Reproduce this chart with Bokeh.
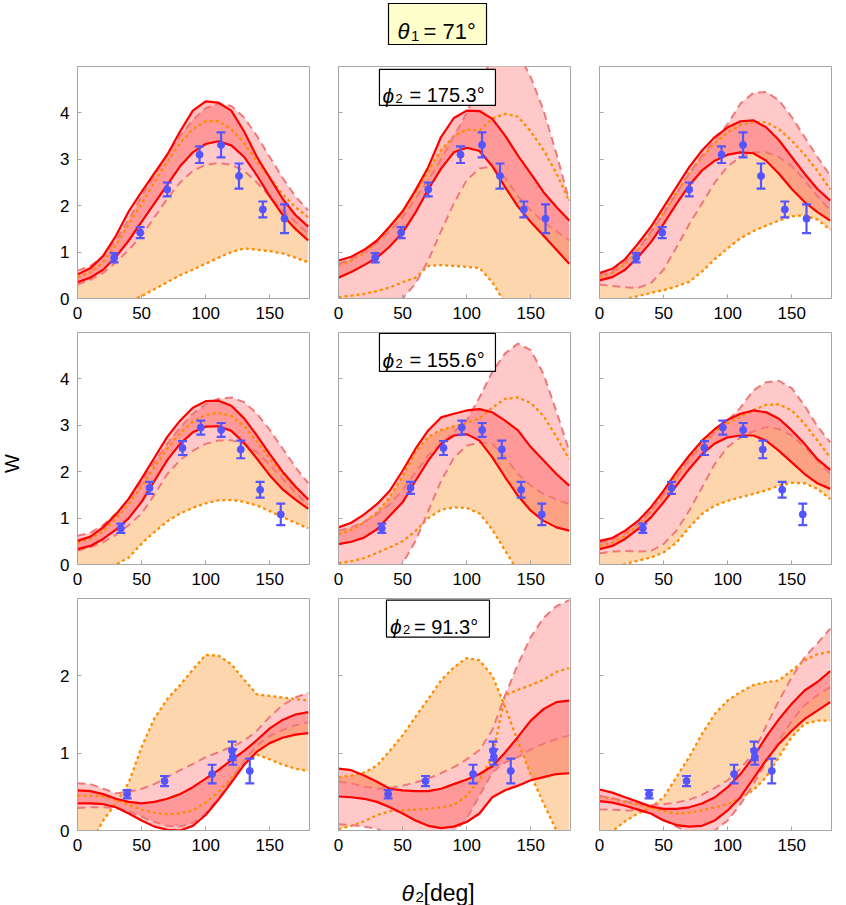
import math
from bokeh.plotting import figure
from bokeh.layouts import row, column
from bokeh.models import Range1d, FixedTicker, Whisker, TeeHead, ColumnDataSource, CustomJSTickFormatter
from bokeh.embed import file_html
from bokeh.resources import INLINE
from bokeh.core.properties import value

# ---------------- data ----------------
theta2 = [0, 10, 20, 30, 40, 50, 60, 70, 80, 90, 100, 110, 120, 130, 140, 150, 160, 170, 180]

# row 1 (phi2 = 175.3)
p11_red_hi = [0.52, 0.65, 0.92, 1.35, 1.88, 2.3, 2.7, 3.1, 3.6, 4.05, 4.25, 4.22, 4.05, 3.6, 3.05, 2.6, 2.15, 1.8, 1.55]
p11_red_lo = [0.35, 0.45, 0.62, 0.9, 1.25, 1.65, 2.05, 2.45, 2.85, 3.15, 3.33, 3.39, 3.3, 3.05, 2.65, 2.2, 1.8, 1.5, 1.25]
p11_pk_hi = [0.6, 0.7, 0.9, 1.25, 1.7, 2.2, 2.65, 3.1, 3.5, 3.85, 4.1, 4.2, 4.15, 3.9, 3.5, 3.05, 2.6, 2.2, 1.9]
p11_pk_lo = [0.3, 0.4, 0.55, 0.78, 1.05, 1.35, 1.75, 2.15, 2.5, 2.75, 2.88, 2.92, 2.88, 2.75, 2.5, 2.2, 1.9, 1.65, 1.4]
p11_or_a = [0.46, 0.56, 0.78, 1.15, 1.6, 2.05, 2.5, 2.95, 3.35, 3.65, 3.82, 3.82, 3.65, 3.35, 2.95, 2.6, 2.25, 1.97, 1.75]
p11_or_b = [-0.6, -0.45, -0.3, -0.18, -0.06, 0.05, 0.2, 0.35, 0.5, 0.62, 0.75, 0.88, 1.0, 1.08, 1.05, 1.02, 0.97, 0.88, 0.78]

p12_red_hi = [0.82, 0.9, 1.05, 1.25, 1.55, 1.88, 2.33, 2.83, 3.48, 3.89, 4.05, 4.04, 3.87, 3.51, 3.08, 2.69, 2.29, 1.97, 1.68]
p12_red_lo = [0.45, 0.57, 0.72, 0.88, 1.12, 1.42, 1.85, 2.35, 2.8, 3.15, 3.25, 3.18, 2.85, 2.4, 1.98, 1.65, 1.35, 1.05, 0.75]
p12_pk_hi = [0.75, 0.85, 1.0, 1.2, 1.45, 1.75, 2.15, 2.55, 3.0, 3.5, 4.0, 4.6, 5.2, 5.5, 5.3, 4.77, 4.05, 3.12, 2.11]
p12_pk_lo = [-1.5, -1.2, -0.9, -0.6, -0.3, 0.0, 0.32, 0.82, 1.45, 2.05, 2.55, 2.8, 2.85, 2.6, 2.2, 1.9, 1.65, 1.45, 1.25]
p12_or_a = [0.71, 0.82, 0.98, 1.22, 1.55, 1.85, 2.3, 2.75, 3.2, 3.5, 3.64, 3.62, 3.88, 3.98, 3.92, 3.6, 3.2, 2.7, 2.1]
p12_or_b = [0.03, 0.06, 0.1, 0.16, 0.24, 0.35, 0.45, 0.7, 0.72, 0.7, 0.68, 0.66, 0.35, -0.1, -0.5, -0.9, -1.2, -1.5, -1.8]

p13_red_hi = [0.55, 0.64, 0.85, 1.18, 1.54, 1.97, 2.4, 2.83, 3.19, 3.48, 3.69, 3.82, 3.84, 3.69, 3.41, 3.05, 2.69, 2.36, 2.11]
p13_red_lo = [0.39, 0.46, 0.62, 0.89, 1.21, 1.61, 2.04, 2.44, 2.76, 2.97, 3.1, 3.15, 3.13, 2.97, 2.69, 2.36, 2.08, 1.86, 1.68]
p13_pk_hi = [0.5, 0.59, 0.78, 1.07, 1.43, 1.82, 2.26, 2.69, 3.08, 3.41, 3.76, 4.2, 4.43, 4.45, 4.27, 3.91, 3.48, 3.05, 2.65]
p13_pk_lo = [0.3, 0.27, 0.24, 0.23, 0.33, 0.62, 1.1, 1.6, 2.05, 2.5, 2.85, 3.05, 3.15, 3.15, 3.05, 2.85, 2.55, 2.2, 1.9]
p13_or_a = [0.46, 0.55, 0.74, 1.05, 1.42, 1.85, 2.28, 2.7, 3.05, 3.35, 3.58, 3.74, 3.8, 3.8, 3.65, 3.4, 3.1, 2.75, 2.35]
p13_or_b = [-0.12, -0.06, -0.01, 0.05, 0.12, 0.18, 0.26, 0.36, 0.58, 0.85, 1.08, 1.3, 1.45, 1.57, 1.68, 1.77, 1.79, 1.7, 1.48]

# row 2 (phi2 = 155.6)
p21_red_hi = [0.51, 0.6, 0.8, 1.08, 1.42, 1.85, 2.3, 2.75, 3.1, 3.38, 3.52, 3.53, 3.42, 3.15, 2.78, 2.38, 2.0, 1.68, 1.4]
p21_red_lo = [0.33, 0.4, 0.55, 0.75, 1.0, 1.35, 1.8, 2.25, 2.6, 2.85, 2.97, 2.98, 2.88, 2.62, 2.28, 1.92, 1.62, 1.4, 1.2]
p21_pk_hi = [0.62, 0.68, 0.85, 1.1, 1.4, 1.78, 2.2, 2.6, 2.95, 3.25, 3.45, 3.57, 3.6, 3.5, 3.25, 2.9, 2.5, 2.1, 1.75]
p21_pk_lo = [0.3, 0.37, 0.48, 0.64, 0.85, 1.1, 1.5, 1.95, 2.25, 2.45, 2.6, 2.67, 2.68, 2.6, 2.42, 2.15, 1.85, 1.55, 1.28]
p21_or_a = [0.47, 0.55, 0.72, 0.98, 1.3, 1.68, 2.1, 2.5, 2.83, 3.08, 3.22, 3.27, 3.2, 2.98, 2.65, 2.28, 1.95, 1.65, 1.4]
p21_or_b = [-0.3, -0.2, -0.1, 0.0, 0.15, 0.45, 0.7, 0.93, 1.1, 1.22, 1.32, 1.38, 1.39, 1.35, 1.27, 1.15, 1.02, 0.9, 0.78]

p22_red_hi = [0.8, 0.9, 1.08, 1.3, 1.59, 2.02, 2.49, 2.89, 3.17, 3.25, 3.32, 3.35, 3.28, 3.1, 2.89, 2.53, 2.24, 1.95, 1.7]
p22_red_lo = [0.44, 0.49, 0.58, 0.76, 1.05, 1.34, 1.8, 2.24, 2.6, 2.78, 2.81, 2.67, 2.31, 1.88, 1.48, 1.16, 0.94, 0.8, 0.73]
p22_pk_hi = [0.73, 0.8, 0.92, 1.08, 1.3, 1.6, 1.98, 2.35, 2.6, 2.85, 3.1, 3.6, 4.15, 4.55, 4.76, 4.62, 4.1, 3.3, 2.45]
p22_pk_lo = [-1.6, -1.25, -0.9, -0.6, -0.28, 0.02, 0.5, 1.15, 1.8, 2.3, 2.56, 2.63, 2.6, 2.31, 1.95, 1.7, 1.52, 1.4, 1.3]
p22_or_a = [0.65, 0.75, 0.9, 1.12, 1.45, 1.9, 2.42, 2.75, 2.9, 2.98, 3.05, 3.15, 3.38, 3.57, 3.6, 3.48, 3.2, 2.75, 2.27]
p22_or_b = [0.03, 0.07, 0.14, 0.25, 0.37, 0.5, 0.72, 1.0, 1.18, 1.23, 1.22, 1.1, 0.75, 0.3, -0.15, -0.6, -1.0, -1.4, -1.8]

p23_red_hi = [0.51, 0.57, 0.73, 0.94, 1.23, 1.59, 1.99, 2.35, 2.67, 2.92, 3.12, 3.25, 3.32, 3.28, 3.14, 2.89, 2.6, 2.27, 2.04]
p23_red_lo = [0.33, 0.4, 0.55, 0.76, 1.01, 1.34, 1.7, 2.06, 2.38, 2.61, 2.74, 2.78, 2.78, 2.67, 2.45, 2.2, 1.95, 1.75, 1.63]
p23_pk_hi = [0.47, 0.53, 0.68, 0.88, 1.15, 1.5, 1.88, 2.25, 2.58, 2.85, 3.1, 3.38, 3.75, 3.93, 3.96, 3.8, 3.42, 2.98, 2.63]
p23_pk_lo = [0.24, 0.28, 0.29, 0.28, 0.29, 0.44, 0.73, 1.16, 1.66, 2.17, 2.53, 2.74, 2.87, 2.96, 2.92, 2.78, 2.53, 2.24, 1.95]
p23_or_a = [0.4, 0.47, 0.62, 0.85, 1.15, 1.52, 1.92, 2.3, 2.62, 2.87, 3.05, 3.18, 3.33, 3.44, 3.45, 3.32, 3.03, 2.67, 2.31]
p23_or_b = [-0.12, -0.05, 0.01, 0.08, 0.15, 0.26, 0.47, 0.8, 1.09, 1.27, 1.37, 1.45, 1.52, 1.6, 1.7, 1.76, 1.75, 1.63, 1.41]

# row 3 (phi2 = 91.3)
p31_red_hi = [0.52, 0.51, 0.47, 0.41, 0.37, 0.35, 0.37, 0.41, 0.47, 0.56, 0.67, 0.78, 0.91, 1.03, 1.17, 1.32, 1.43, 1.5, 1.53]
p31_red_lo = [0.35, 0.35, 0.34, 0.3, 0.22, 0.13, 0.05, 0.01, 0.0, 0.06, 0.2, 0.4, 0.62, 0.85, 1.02, 1.13, 1.2, 1.24, 1.26]
p31_pk_hi = [0.61, 0.6, 0.54, 0.48, 0.5, 0.54, 0.6, 0.69, 0.78, 0.86, 0.95, 1.01, 1.08, 1.16, 1.29, 1.47, 1.62, 1.72, 1.78]
p31_pk_lo = [0.29, 0.3, 0.3, 0.29, 0.25, 0.18, 0.11, 0.06, 0.05, 0.1, 0.22, 0.42, 0.65, 0.9, 1.1, 1.22, 1.3, 1.36, 1.4]
p31_or_a = [0.45, 0.45, 0.44, 0.4, 0.33, 0.27, 0.23, 0.21, 0.22, 0.26, 0.36, 0.5, 0.68, 0.88, 0.98, 0.92, 0.85, 0.8, 0.77]
p31_or_b = [-0.5, -0.18, 0.13, 0.35, 0.62, 1.08, 1.45, 1.7, 1.88, 2.08, 2.27, 2.26, 2.15, 1.95, 1.76, 1.74, 1.72, 1.7, 1.68]

p32_red_hi = [0.8, 0.78, 0.71, 0.63, 0.54, 0.52, 0.51, 0.51, 0.54, 0.6, 0.66, 0.73, 0.83, 1.01, 1.21, 1.42, 1.57, 1.66, 1.68]
p32_red_lo = [0.44, 0.43, 0.41, 0.37, 0.3, 0.22, 0.13, 0.06, 0.03, 0.05, 0.11, 0.22, 0.43, 0.52, 0.58, 0.65, 0.69, 0.73, 0.74]
p32_pk_hi = [0.63, 0.61, 0.57, 0.54, 0.55, 0.58, 0.62, 0.67, 0.74, 0.82, 0.92, 1.04, 1.3, 1.75, 2.15, 2.5, 2.75, 2.9, 2.98]
p32_pk_lo = [0.08, 0.07, 0.05, 0.02, -0.05, -0.15, -0.2, -0.18, -0.1, -0.02, 0.15, 0.45, 0.75, 0.88, 0.95, 1.05, 1.12, 1.18, 1.23]
p32_or_a = [0.69, 0.71, 0.75, 0.84, 1.03, 1.23, 1.47, 1.7, 1.94, 2.11, 2.23, 2.2, 2.0, 1.6, 1.15, 0.72, 0.35, 0.0, -0.3]
p32_or_b = [0.02, 0.06, 0.12, 0.2, 0.25, 0.26, 0.27, 0.28, 0.3, 0.33, 0.45, 0.65, 0.95, 1.75, 1.82, 1.88, 1.95, 2.05, 2.1]

p33_red_hi = [0.53, 0.49, 0.43, 0.37, 0.31, 0.28, 0.28, 0.3, 0.35, 0.43, 0.56, 0.73, 0.95, 1.21, 1.44, 1.64, 1.81, 1.92, 2.06]
p33_red_lo = [0.38, 0.36, 0.32, 0.27, 0.22, 0.13, 0.07, 0.05, 0.06, 0.13, 0.26, 0.43, 0.67, 0.91, 1.12, 1.29, 1.44, 1.55, 1.66]
p33_pk_hi = [0.45, 0.42, 0.38, 0.35, 0.33, 0.34, 0.36, 0.4, 0.46, 0.55, 0.65, 0.8, 1.0, 1.35, 1.68, 1.98, 2.24, 2.42, 2.61]
p33_pk_lo = [0.27, 0.27, 0.26, 0.26, 0.22, 0.14, 0.05, -0.02, -0.04, 0.0, 0.13, 0.34, 0.6, 0.88, 1.16, 1.42, 1.62, 1.75, 1.85]
p33_or_a = [0.44, 0.41, 0.37, 0.34, 0.3, 0.25, 0.22, 0.23, 0.26, 0.3, 0.34, 0.42, 0.52, 0.69, 0.95, 1.21, 1.38, 1.42, 1.42]
p33_or_b = [-0.12, -0.01, 0.12, 0.22, 0.3, 0.43, 0.69, 0.95, 1.25, 1.51, 1.68, 1.79, 1.88, 1.92, 1.94, 2.07, 2.2, 2.28, 2.31]

# measured points (same for each row)
row1_x = [28.6, 48.9, 70.0, 95.2, 112.0, 126.0, 144.6, 161.5]
row1_w = [0.88, 1.42, 2.35, 3.10, 3.31, 2.64, 1.92, 1.72]
row1_err = [0.10, 0.12, 0.15, 0.18, 0.27, 0.27, 0.17, 0.31]

row2_x = [33.8, 56.2, 81.9, 96.2, 112.1, 127.4, 142.5, 158.6]
row2_w = [0.78, 1.65, 2.51, 2.95, 2.90, 2.48, 1.61, 1.08]
row2_err = [0.10, 0.13, 0.15, 0.15, 0.15, 0.19, 0.17, 0.23]

row3_x = [38.7, 67.9, 105.0, 120.6, 121.2, 134.4]
row3_w = [0.47, 0.64, 0.73, 1.03, 0.95, 0.77]
row3_err = [0.054, 0.065, 0.12, 0.12, 0.10, 0.16]

phi2_labels = ["175.3°", "155.6°", "91.3°"]
theta1_label = "71°"
x_ticks = [0, 50, 100, 150]

# ---------------- style ----------------
FONT = "Liberation Sans"
AXC = "#A6A6A6"
C_OR_FILL = "#FDD6AE"
C_PK_FILL = "#FFC9C9"
C_RD_FILL = "#FF1A1A"
C_OR = "#FF8C00"
C_PK = "#F07878"
C_RD = "#FF0000"
C_BL = "#5555FF"

panels = [
    [(p11_red_hi, p11_red_lo, p11_pk_hi, p11_pk_lo, p11_or_a, p11_or_b),
     (p12_red_hi, p12_red_lo, p12_pk_hi, p12_pk_lo, p12_or_a, p12_or_b),
     (p13_red_hi, p13_red_lo, p13_pk_hi, p13_pk_lo, p13_or_a, p13_or_b)],
    [(p21_red_hi, p21_red_lo, p21_pk_hi, p21_pk_lo, p21_or_a, p21_or_b),
     (p22_red_hi, p22_red_lo, p22_pk_hi, p22_pk_lo, p22_or_a, p22_or_b),
     (p23_red_hi, p23_red_lo, p23_pk_hi, p23_pk_lo, p23_or_a, p23_or_b)],
    [(p31_red_hi, p31_red_lo, p31_pk_hi, p31_pk_lo, p31_or_a, p31_or_b),
     (p32_red_hi, p32_red_lo, p32_pk_hi, p32_pk_lo, p32_or_a, p32_or_b),
     (p33_red_hi, p33_red_lo, p33_pk_hi, p33_pk_lo, p33_or_a, p33_or_b)],
]
points = [(row1_x, row1_w, row1_err), (row2_x, row2_w, row2_err), (row3_x, row3_w, row3_err)]
ymaxes = [5, 5, 3]
yticks_rows = [[0, 1, 2, 3, 4], [0, 1, 2, 3, 4], [0, 1, 2]]
# label box anchor (data coords of the middle panel), box size in px, text offsets in px
box_spec = [((77.2, 4.55), 116, 36, (-55, -42, -28)),
            ((77.2, 4.57), 116, 38, (-55, -42, -28)),
            ((77.6, 2.74), 103, 37, (-48, -35, -24))]


def make_panel(ri, ci):
    red_hi, red_lo, pk_hi, pk_lo, or_a, or_b = panels[ri][ci]
    lb = 47 if ci == 0 else 27
    rb = 15 if ci == 2 else 2
    bb = 40 if ri == 2 else 32
    p = figure(frame_width=232, frame_height=232,
               x_range=Range1d(0, 181), y_range=Range1d(0, ymaxes[ri]),
               min_border_left=lb, min_border_right=rb, min_border_top=2, min_border_bottom=bb,
               output_backend="svg", toolbar_location=None, tools="")
    p.grid.visible = False
    p.outline_line_color = AXC
    p.outline_line_width = 1
    p.background_fill_color = "white"
    p.border_fill_color = "white"

    p.varea(x=theta2, y1=or_b, y2=or_a, fill_color=C_OR_FILL, fill_alpha=1.0)
    p.varea(x=theta2, y1=pk_lo, y2=pk_hi, fill_color=C_PK_FILL, fill_alpha=1.0)
    p.varea(x=theta2, y1=red_lo, y2=red_hi, fill_color=C_RD_FILL, fill_alpha=0.28)

    for arr in (or_a, or_b):
        p.line(theta2, arr, line_color=C_OR, line_width=2.3, line_dash="3 3")
    for arr in (pk_hi, pk_lo):
        p.line(theta2, arr, line_color=C_PK, line_width=2, line_dash="8 5")
    for arr in (red_hi, red_lo):
        p.line(theta2, arr, line_color=C_RD, line_width=2.2)

    xs, ws, es = points[ri]
    src = ColumnDataSource(dict(x=xs, w=ws,
                                up=[w + e for w, e in zip(ws, es)],
                                lo=[w - e for w, e in zip(ws, es)]))
    wh = Whisker(source=src, base="x", upper="up", lower="lo", level="overlay",
                 line_color=C_BL, line_width=2.2,
                 upper_head=TeeHead(size=9, line_color=C_BL, line_width=2.2),
                 lower_head=TeeHead(size=9, line_color=C_BL, line_width=2.2))
    p.add_layout(wh)
    p.scatter("x", "w", source=src, size=7, fill_color=C_BL, line_color=C_BL)

    # axes
    for ax in (p.xaxis[0], p.yaxis[0]):
        ax.axis_line_color = AXC
        ax.major_tick_line_color = AXC
        ax.major_tick_in = 4
        ax.major_tick_out = 0
        ax.minor_tick_line_color = None
        ax.major_label_text_font = FONT
        ax.major_label_text_font_size = "17px"
        ax.major_label_text_color = "black"
    p.xaxis.ticker = FixedTicker(ticks=x_ticks)
    p.xaxis.major_label_standoff = 8
    p.yaxis.ticker = FixedTicker(ticks=yticks_rows[ri])
    p.yaxis.major_label_standoff = 8
    if ci != 0:
        p.yaxis.formatter = CustomJSTickFormatter(code="return ''")

    if ci == 1:
        (bx, by), bw, bh, offs = box_spec[ri]
        p.rect(x=[bx], y=[by], width=[bw], height=[bh], width_units="screen", height_units="screen",
               fill_color="white", line_color="black", line_width=1.2)
        p.text(x=[bx], y=[by], text=["ϕ"], x_offset=offs[0], y_offset=8,
               text_font=value(FONT), text_font_size="21px", text_font_style="italic",
               text_baseline="alphabetic", text_align="left", text_color="black")
        p.text(x=[bx], y=[by], text=["2"], x_offset=offs[1], y_offset=11,
               text_font=value(FONT), text_font_size="13px",
               text_baseline="alphabetic", text_align="left", text_color="black")
        p.text(x=[bx], y=[by], text=["= " + phi2_labels[ri]], x_offset=offs[2], y_offset=8,
               text_font=value(FONT), text_font_size="20px",
               text_baseline="alphabetic", text_align="left", text_color="black")
    return p


grid_rows = []
for ri in range(3):
    grid_rows.append(row(*[make_panel(ri, ci) for ci in range(3)]))

# header with theta1 box (pixel coordinates)
header = figure(width=846, height=64, x_range=Range1d(0, 846), y_range=Range1d(64, 0),
                x_axis_location=None, y_axis_location=None, min_border=0,
                output_backend="svg", toolbar_location=None, tools="")
header.grid.visible = False
header.outline_line_color = None
header.rect(x=[437], y=[23.5], width=[98], height=[41], fill_color="#FFFFCC", line_color="black", line_width=1.2)
header.text(x=[397], y=[31], text=["θ"], text_font=value(FONT), text_font_size="22px",
            text_font_style="italic", text_baseline="alphabetic", text_color="black")
header.text(x=[410.5], y=[35], text=["1"], text_font=value(FONT), text_font_size="15px",
            text_baseline="alphabetic", text_color="black")
header.text(x=[423], y=[31], text=["= " + theta1_label], text_font=value(FONT), text_font_size="22px",
            text_baseline="alphabetic", text_color="black")

# left strip with W
strip = figure(width=30, height=806, x_range=Range1d(0, 30), y_range=Range1d(806, 0),
               x_axis_location=None, y_axis_location=None, min_border=0,
               output_backend="svg", toolbar_location=None, tools="")
strip.grid.visible = False
strip.outline_line_color = None
strip.text(x=[11], y=[399], text=["W"], angle=math.pi / 2, text_font=value(FONT), text_font_size="20px",
           text_align="center", text_baseline="middle", text_color="black")

# footer with theta2 label
footer = figure(width=846, height=35, x_range=Range1d(0, 846), y_range=Range1d(35, 0),
                x_axis_location=None, y_axis_location=None, min_border=0,
                output_backend="svg", toolbar_location=None, tools="")
footer.grid.visible = False
footer.outline_line_color = None
footer.text(x=[401], y=[22], text=["θ"], text_font=value(FONT), text_font_size="23px",
            text_font_style="italic", text_baseline="alphabetic", text_color="black")
footer.text(x=[415], y=[26], text=["2"], text_font=value(FONT), text_font_size="15px",
            text_baseline="alphabetic", text_color="black")
footer.text(x=[423], y=[22], text=["[deg]"], text_font=value(FONT), text_font_size="23px",
            text_baseline="alphabetic", text_color="black")

layout = column(header, row(strip, column(*grid_rows)), footer)

open("out.html", "w").write(file_html(layout, INLINE))
